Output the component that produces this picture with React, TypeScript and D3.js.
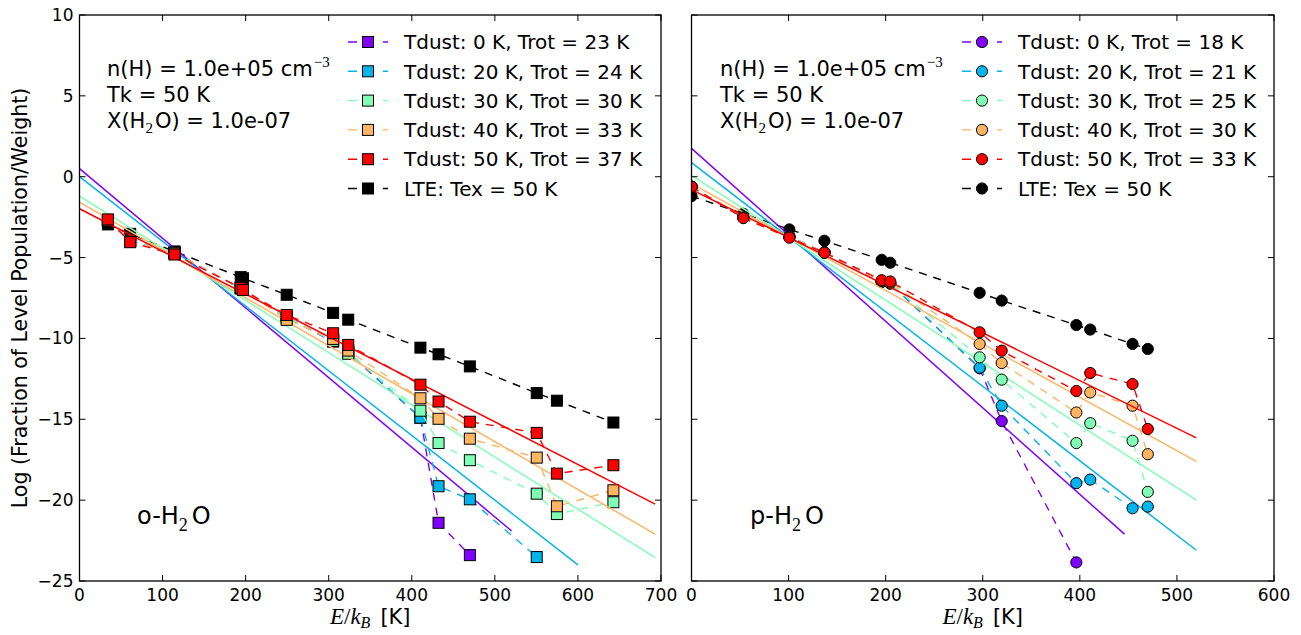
import React from 'react';
import * as d3 from 'd3';

// ---------- data ----------
const COLORS = ['#8000ff', '#00b4ec', '#80ffb4', '#ffb462', '#ff0000'];

// o-H2O level energies (K)
const oE = [34.2, 61.0, 114.4, 194.1, 196.8, 249.4, 305.3, 323.5, 410.4, 432.2, 469.9, 550.4, 574.7, 642.7];
const oLTE = [-2.95, -3.53, -4.62, -6.21, -6.28, -7.3, -8.42, -8.84, -10.57, -10.98, -11.73, -13.38, -13.85, -15.2];
const oTd0 = [-2.7, -3.95, -4.7, -6.9, -7.0, -8.7, -10.2, -10.9, -14.9, -21.4, -23.4];
const oTd20 = [-2.7, -3.95, -4.7, -6.9, -7.0, -8.7, -10.15, -10.85, -14.9, -19.14, -19.95, -23.52];
const oTd30 = [-2.7, -3.95, -4.7, -6.9, -7.0, -8.7, -10.15, -10.95, -14.47, -16.47, -17.53, -19.6, -20.86, -20.13];
const oTd40 = [-2.7, -4.0, -4.75, -6.9, -7.0, -8.85, -10.03, -10.75, -13.7, -14.97, -16.2, -17.37, -20.38, -19.39];
const oTd50 = [-2.64, -4.05, -4.81, -6.87, -7.0, -8.55, -9.68, -10.4, -12.86, -13.9, -15.15, -15.84, -18.36, -17.84];
const oFitStart = [0.5, 0.0, -1.2, -1.57, -1.98];
const oFitEndE = [520, 600, 693, 693, 693];
const oFitEnd = [-21.9, -24.0, -23.56, -22.1, -20.25];
const oLegend = [
  'Tdust: 0 K, Trot = 23 K',
  'Tdust: 20 K, Trot = 24 K',
  'Tdust: 30 K, Trot = 30 K',
  'Tdust: 40 K, Trot = 33 K',
  'Tdust: 50 K, Trot = 37 K',
  'LTE: Tex = 50 K',
];

// p-H2O level energies (K)
const pE = [0, 53.4, 100.8, 136.9, 195.9, 204.7, 296.8, 319.5, 396.4, 410.7, 454.3, 470.0];
const pLTE = [-1.2, -2.29, -3.26, -3.96, -5.14, -5.32, -7.18, -7.66, -9.17, -9.45, -10.34, -10.65];
const pTd0 = [-0.62, -2.5, -3.7, -4.68, -6.5, -6.6, -11.85, -15.11, -23.85];
const pTd20 = [-0.62, -2.5, -3.7, -4.68, -6.5, -6.6, -11.81, -14.16, -18.95, -18.73, -20.5, -20.4];
const pTd30 = [-0.62, -2.5, -3.7, -4.68, -6.5, -6.6, -11.17, -12.55, -16.47, -15.24, -16.33, -19.49];
const pTd40 = [-0.62, -2.52, -3.72, -4.68, -6.45, -6.55, -10.34, -11.52, -14.58, -13.34, -14.16, -17.16];
const pTd50 = [-0.62, -2.56, -3.77, -4.7, -6.4, -6.48, -9.62, -10.76, -13.25, -12.14, -12.82, -15.6];
const pFitStart = [1.75, 0.87, 0.09, -0.43, -0.8];
const pFitEndE = [446, 520, 520, 520, 520];
const pFitEnd = [-22.1, -23.1, -20.0, -17.6, -16.15];
const pLegend = [
  'Tdust: 0 K, Trot = 18 K',
  'Tdust: 20 K, Trot = 21 K',
  'Tdust: 30 K, Trot = 25 K',
  'Tdust: 40 K, Trot = 30 K',
  'Tdust: 50 K, Trot = 33 K',
  'LTE: Tex = 50 K',
];

const yTicks = [-25, -20, -15, -10, -5, 0, 5, 10];
const oXTicks = [0, 100, 200, 300, 400, 500, 600, 700];
const pXTicks = [0, 100, 200, 300, 400, 500, 600];

// ---------- layout ----------
const W = 1301;
const H = 635;
const TOP = 15;
const BOTTOM = 581;
const SANS = 'DejaVu Sans, sans-serif';
const SERIF = 'Liberation Serif, DejaVu Serif, serif';
const FONT_TICK = 17;
const FONT_TEXT = 20;
const FONT_ANN = 21;
const DASH = '8,7';

type PanelProps = {
  left: number;
  right: number;
  xMax: number;
  xTicks: number[];
  E: number[];
  lte: number[];
  series: number[][];
  fitStart: number[];
  fitEndE: number[];
  fitEnd: number[];
  marker: 'square' | 'circle';
  legend: string[];
  legendX: number;
  annX: number;
  species: string;
  speciesX: number;
  showYLabels: boolean;
};

function Marker({ type, cx, cy, fill }: { type: 'square' | 'circle'; cx: number; cy: number; fill: string }) {
  if (type === 'square') {
    return <rect x={cx - 5.5} y={cy - 5.5} width={11} height={11} fill={fill} stroke="#000" strokeWidth={1} />;
  }
  return <circle cx={cx} cy={cy} r={5.6} fill={fill} stroke="#000" strokeWidth={1} />;
}

function Panel(p: PanelProps) {
  const x = d3.scaleLinear().domain([0, p.xMax]).range([p.left, p.right]);
  const y = d3.scaleLinear().domain([-25, 10]).range([BOTTOM, TOP]);
  const line = d3
    .line<[number, number]>()
    .x((d) => x(d[0]))
    .y((d) => y(d[1]));
  const pts = (vals: number[]) => vals.map((v, i) => [p.E[i], v] as [number, number]);
  const clipId = `clip-${Math.round(p.left)}`;
  const tickLen = 6;

  return (
    <g>
      <defs>
        <clipPath id={clipId}>
          <rect x={p.left} y={TOP} width={p.right - p.left} height={BOTTOM - TOP} />
        </clipPath>
      </defs>
      <g clipPath={`url(#${clipId})`}>
        {/* LTE */}
        <path d={line(pts(p.lte)) || ''} fill="none" stroke="#000" strokeWidth={1.4} strokeDasharray={DASH} />
        {pts(p.lte).map((d, i) => (
          <Marker key={`l${i}`} type={p.marker} cx={x(d[0])} cy={y(d[1])} fill="#000" />
        ))}
        {p.series.map((vals, si) => (
          <g key={si}>
            <path
              d={line([
                [0, p.fitStart[si]],
                [p.fitEndE[si], p.fitEnd[si]],
              ]) || ''}
              fill="none"
              stroke={COLORS[si]}
              strokeWidth={1.5}
            />
            <path d={line(pts(vals)) || ''} fill="none" stroke={COLORS[si]} strokeWidth={1.4} strokeDasharray={DASH} />
            {pts(vals).map((d, i) => (
              <Marker key={i} type={p.marker} cx={x(d[0])} cy={y(d[1])} fill={COLORS[si]} />
            ))}
          </g>
        ))}
      </g>

      {/* frame */}
      <rect x={p.left} y={TOP} width={p.right - p.left} height={BOTTOM - TOP} fill="none" stroke="#000" strokeWidth={1.3} />

      {/* x ticks */}
      {p.xTicks.map((t) => (
        <g key={`xt${t}`}>
          <line x1={x(t)} x2={x(t)} y1={BOTTOM} y2={BOTTOM - tickLen} stroke="#000" strokeWidth={1} />
          <line x1={x(t)} x2={x(t)} y1={TOP} y2={TOP + tickLen} stroke="#000" strokeWidth={1} />
          <text x={x(t)} y={BOTTOM + 20} textAnchor="middle" fontFamily={SANS} fontSize={FONT_TICK}>
            {t}
          </text>
        </g>
      ))}
      {/* y ticks */}
      {yTicks.map((t) => (
        <g key={`yt${t}`}>
          <line x1={p.left} x2={p.left + tickLen} y1={y(t)} y2={y(t)} stroke="#000" strokeWidth={1} />
          <line x1={p.right} x2={p.right - tickLen} y1={y(t)} y2={y(t)} stroke="#000" strokeWidth={1} />
          {p.showYLabels && (
            <text x={p.left - 6} y={y(t)} dy="0.35em" textAnchor="end" fontFamily={SANS} fontSize={FONT_TICK}>
              {t < 0 ? `\u2212${Math.abs(t)}` : `${t}`}
            </text>
          )}
        </g>
      ))}

      {/* annotation */}
      <text x={p.annX} y={76} fontFamily={SANS} fontSize={FONT_ANN}>
        n(H) = 1.0e+05 cm
        <tspan fontFamily={SERIF} fontSize={15} dy={-9} dx={1}>
          {'\u2212'}3
        </tspan>
      </text>
      <text x={p.annX} y={102} fontFamily={SANS} fontSize={FONT_ANN}>
        Tk = 50 K
      </text>
      <text x={p.annX} y={128} fontFamily={SANS} fontSize={FONT_ANN}>
        X(H
        <tspan fontFamily={SERIF} fontSize={15} dy={5}>
          2
        </tspan>
        <tspan dy={-5} dx={2}>
          O) = 1.0e-07
        </tspan>
      </text>

      {/* species label */}
      <text x={p.speciesX} y={524} fontFamily={SANS} fontSize={24}>
        {p.species}-H
        <tspan fontFamily={SERIF} fontSize={18} dy={7}>
          2
        </tspan>
        <tspan dy={-7} dx={4}>
          O
        </tspan>
      </text>

      {/* x label */}
      <text x={(p.left + p.right) / 2} y={624} textAnchor="middle" fontFamily={SANS} fontSize={21}>
        <tspan fontFamily={SERIF} fontStyle="italic" fontSize={23}>
          E
        </tspan>
        <tspan fontFamily={SERIF} fontSize={23}>
          /
        </tspan>
        <tspan fontFamily={SERIF} fontStyle="italic" fontSize={23}>
          k
        </tspan>
        <tspan fontFamily={SERIF} fontStyle="italic" fontSize={16} dy={4}>
          B
        </tspan>
        <tspan dy={-4} dx={10}>
          [K]
        </tspan>
      </text>

      {/* legend */}
      {p.legend.map((lab, i) => {
        const ly = 42 + i * 29.3;
        const c = i < 5 ? COLORS[i] : '#000';
        return (
          <g key={`lg${i}`}>
            <line
              x1={p.legendX}
              x2={p.legendX + 40}
              y1={ly}
              y2={ly}
              stroke={c}
              strokeWidth={1.4}
              strokeDasharray="9,26"
            />
            <Marker type={p.marker} cx={p.legendX + 20} cy={ly} fill={c} />
            <text x={p.legendX + 56} y={ly} dy="0.36em" fontFamily={SANS} fontSize={FONT_TEXT}>
              {lab}
            </text>
          </g>
        );
      })}
    </g>
  );
}

export default function App() {
  return (
    <svg
      width={W}
      height={H}
      viewBox={`0 0 ${W} ${H}`}
      style={{ position: 'absolute', left: 0, top: 0, background: '#fff' }}
    >
      <rect x={0} y={0} width={W} height={H} fill="#fff" />
      <text
        transform={`translate(27, ${(TOP + BOTTOM) / 2}) rotate(-90)`}
        textAnchor="middle"
        fontFamily={SANS}
        fontSize={20.5}
      >
        Log (Fraction of Level Population/Weight)
      </text>
      <Panel
        left={79.5}
        right={661}
        xMax={700}
        xTicks={oXTicks}
        E={oE}
        lte={oLTE}
        series={[oTd0, oTd20, oTd30, oTd40, oTd50]}
        fitStart={oFitStart}
        fitEndE={oFitEndE}
        fitEnd={oFitEnd}
        marker="square"
        legend={oLegend}
        legendX={348}
        annX={107}
        species="o"
        speciesX={137}
        showYLabels={true}
      />
      <Panel
        left={691.5}
        right={1274}
        xMax={600}
        xTicks={pXTicks}
        E={pE}
        lte={pLTE}
        series={[pTd0, pTd20, pTd30, pTd40, pTd50]}
        fitStart={pFitStart}
        fitEndE={pFitEndE}
        fitEnd={pFitEnd}
        marker="circle"
        legend={pLegend}
        legendX={962}
        annX={720}
        species="p"
        speciesX={750}
        showYLabels={false}
      />
    </svg>
  );
}
